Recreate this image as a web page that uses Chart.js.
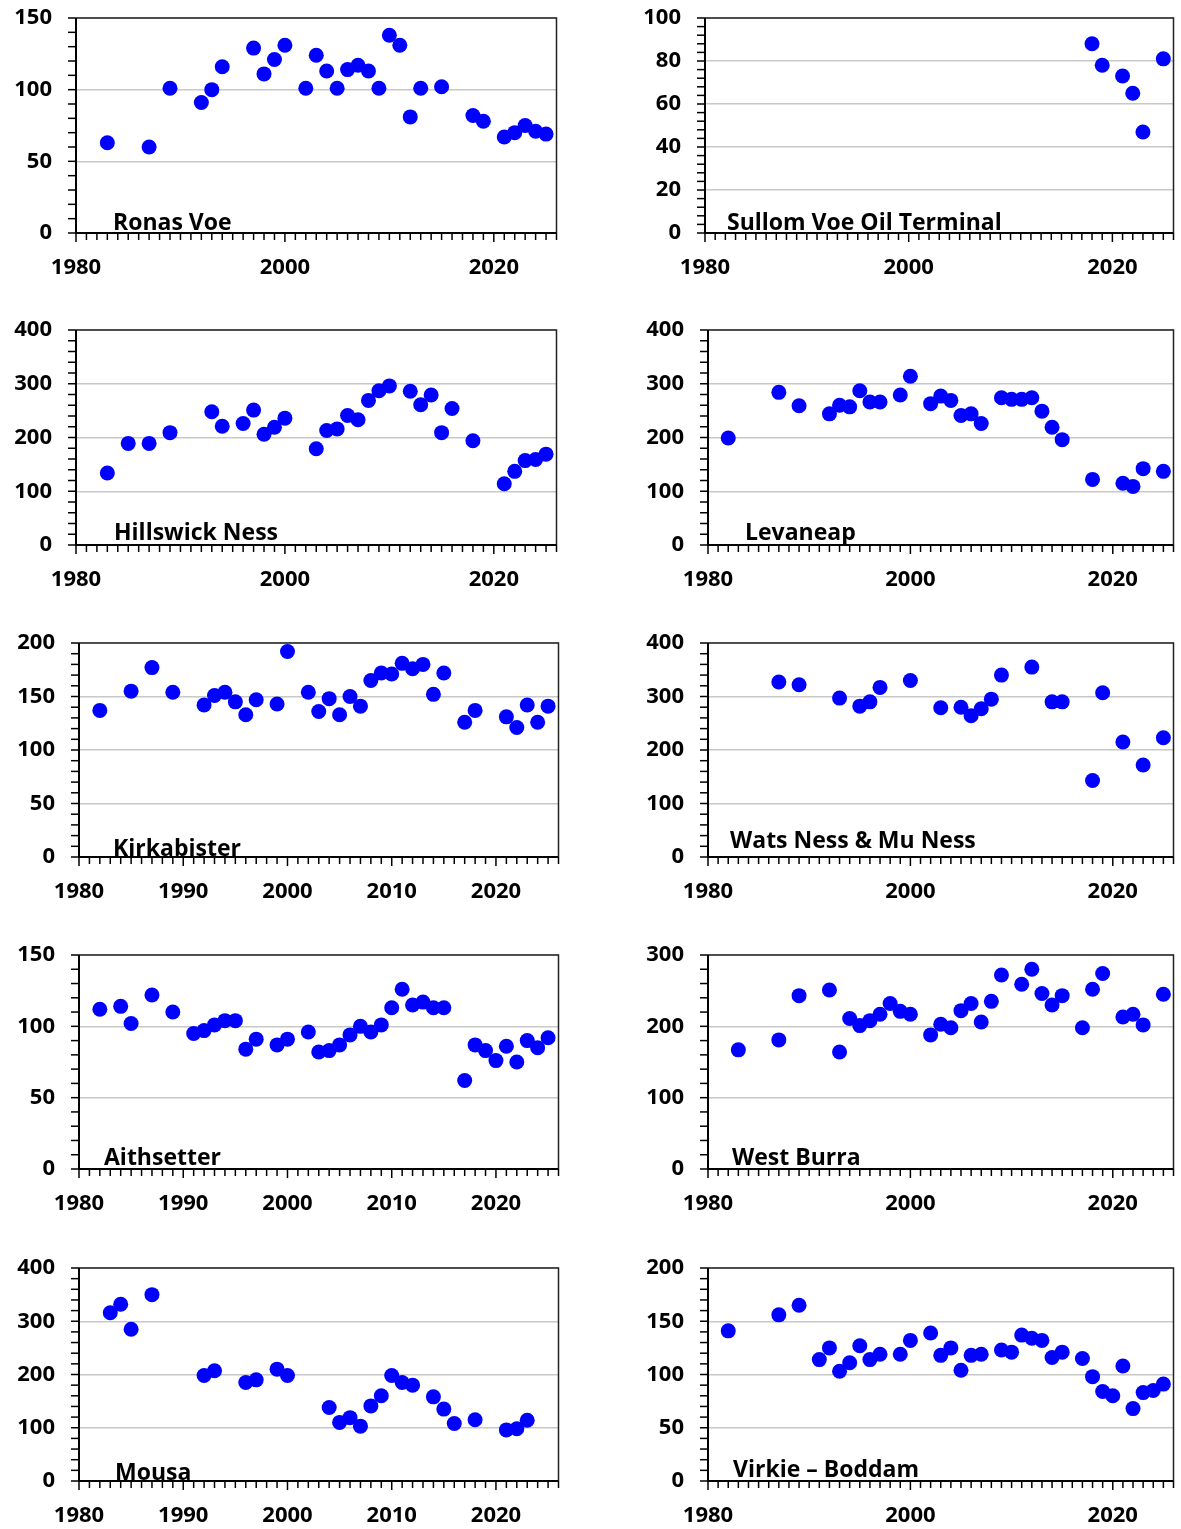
<!DOCTYPE html>
<html>
<head>
<meta charset="utf-8">
<script src="https://cdn.jsdelivr.net/npm/chart.js@4.4.1/dist/chart.umd.min.js"></script>
<style>
  body { margin: 0; background: #fff; width: 1181px; height: 1529px; position: relative; overflow: hidden; }
  canvas { position: absolute; }
</style>
</head>
<body>
<script>
// site names, one per panel
const sites = ['Ronas Voe', 'Sullom Voe Oil Terminal', 'Hillswick Ness', 'Levaneap', 'Kirkabister',
  'Wats Ness & Mu Ness', 'Aithsetter', 'West Burra', 'Mousa', 'Virkie – Boddam'];

const ronasYears = [1983, 1987, 1989, 1992, 1993, 1994, 1997, 1998, 1999, 2000, 2002, 2003, 2004, 2005, 2006, 2007, 2008, 2009, 2010, 2011, 2012, 2013, 2015, 2018, 2019, 2021, 2022, 2023, 2024, 2025];
const ronasCounts = [63, 60, 101, 91, 100, 116, 129, 111, 121, 131, 101, 124, 113, 101, 114, 117, 113, 101, 138, 131, 81, 101, 102, 82, 78, 67, 70, 75, 71, 69];

const sullomYears = [2018, 2019, 2021, 2022, 2023, 2025];
const sullomCounts = [88, 78, 73, 65, 47, 81];

const hillswickYears = [1983, 1985, 1987, 1989, 1993, 1994, 1996, 1997, 1998, 1999, 2000, 2003, 2004, 2005, 2006, 2007, 2008, 2009, 2010, 2012, 2013, 2014, 2015, 2016, 2018, 2021, 2022, 2023, 2024, 2025];
const hillswickCounts = [134, 189, 189, 209, 248, 221, 226, 251, 206, 219, 236, 179, 213, 216, 241, 233, 269, 287, 296, 286, 261, 279, 209, 254, 194, 114, 137, 157, 159, 169];

const levaneapYears = [1982, 1987, 1989, 1992, 1993, 1994, 1995, 1996, 1997, 1999, 2000, 2002, 2003, 2004, 2005, 2006, 2007, 2009, 2010, 2011, 2012, 2013, 2014, 2015, 2018, 2021, 2022, 2023, 2025];
const levaneapCounts = [199, 284, 259, 244, 260, 257, 287, 266, 266, 279, 314, 263, 277, 269, 241, 244, 226, 274, 271, 271, 274, 249, 219, 196, 122, 115, 109, 142, 137];

const kirkYears = [1982, 1985, 1987, 1989, 1992, 1993, 1994, 1995, 1996, 1997, 1999, 2000, 2002, 2003, 2004, 2005, 2006, 2007, 2008, 2009, 2010, 2011, 2012, 2013, 2014, 2015, 2017, 2018, 2021, 2022, 2023, 2024, 2025];
const kirkCounts = [137, 155, 177, 154, 142, 151, 154, 145, 133, 147, 143, 192, 154, 136, 148, 133, 150, 141, 165, 172, 171, 181, 176, 180, 152, 172, 126, 137, 131, 121, 142, 126, 141];

const watsYears = [1987, 1989, 1993, 1995, 1996, 1997, 2000, 2003, 2005, 2006, 2007, 2008, 2009, 2012, 2014, 2015, 2018, 2019, 2021, 2023, 2025];
const watsCounts = [327, 322, 297, 282, 290, 317, 330, 279, 280, 264, 277, 295, 340, 355, 290, 290, 143, 307, 215, 172, 223];

const aithYears = [1982, 1984, 1985, 1987, 1989, 1991, 1992, 1993, 1994, 1995, 1996, 1997, 1999, 2000, 2002, 2003, 2004, 2005, 2006, 2007, 2008, 2009, 2010, 2011, 2012, 2013, 2014, 2015, 2017, 2018, 2019, 2020, 2021, 2022, 2023, 2024, 2025];
const aithCounts = [112, 114, 102, 122, 110, 95, 97, 101, 104, 104, 84, 91, 87, 91, 96, 82, 83, 87, 94, 100, 96, 101, 113, 126, 115, 117, 113, 113, 62, 87, 83, 76, 86, 75, 90, 85, 92];

const burraYears = [1983, 1987, 1989, 1992, 1993, 1994, 1995, 1996, 1997, 1998, 1999, 2000, 2002, 2003, 2004, 2005, 2006, 2007, 2008, 2009, 2011, 2012, 2013, 2014, 2015, 2017, 2018, 2019, 2021, 2022, 2023, 2025];
const burraCounts = [167, 181, 243, 251, 164, 211, 201, 208, 217, 232, 221, 217, 188, 203, 198, 222, 232, 206, 235, 272, 259, 280, 246, 230, 243, 198, 252, 274, 213, 217, 202, 245];

const mousaYears = [1983, 1984, 1985, 1987, 1992, 1993, 1996, 1997, 1999, 2000, 2004, 2005, 2006, 2007, 2008, 2009, 2010, 2011, 2012, 2014, 2015, 2016, 2018, 2021, 2022, 2023];
const mousaCounts = [316, 332, 285, 350, 198, 207, 185, 190, 210, 198, 138, 110, 119, 103, 141, 160, 198, 185, 180, 158, 135, 108, 115, 96, 98, 114];

const virkieYears = [1982, 1987, 1989, 1991, 1992, 1993, 1994, 1995, 1996, 1997, 1999, 2000, 2002, 2003, 2004, 2005, 2006, 2007, 2009, 2010, 2011, 2012, 2013, 2014, 2015, 2017, 2018, 2019, 2020, 2021, 2022, 2023, 2024, 2025];
const virkieCounts = [141, 156, 165, 114, 125, 103, 111, 127, 114, 119, 119, 132, 139, 118, 125, 104, 118, 119, 123, 121, 137, 134, 132, 116, 121, 115, 98, 84, 80, 108, 68, 83, 85, 91];

const yearMin = 1980, yearMax = 2026;

// layout: plot rect [left, top, right, bottom], label offset [dx, dy]
const panels = [
  { name: sites[0], xs: ronasYears, ys: ronasCounts, yMax: 150, yStep: 50, xStep: 20, rect: [76, 18, 558, 233], lab: [37, 3] },
  { name: sites[1], xs: sullomYears, ys: sullomCounts, yMax: 100, yStep: 20, xStep: 20, rect: [705, 18, 1180, 233], lab: [22, 3] },
  { name: sites[2], xs: hillswickYears, ys: hillswickCounts, yMax: 400, yStep: 100, xStep: 20, rect: [76, 330, 558, 545], lab: [38, 5] },
  { name: sites[3], xs: levaneapYears, ys: levaneapCounts, yMax: 400, yStep: 100, xStep: 20, rect: [708, 330, 1180, 545], lab: [37, 5] },
  { name: sites[4], xs: kirkYears, ys: kirkCounts, yMax: 200, yStep: 50, xStep: 10, rect: [79, 643, 560, 857], lab: [34, 1] },
  { name: sites[5], xs: watsYears, ys: watsCounts, yMax: 400, yStep: 100, xStep: 20, rect: [708, 643, 1180, 857], lab: [22, 9] },
  { name: sites[6], xs: aithYears, ys: aithCounts, yMax: 150, yStep: 50, xStep: 10, rect: [79, 955, 560, 1169], lab: [25, 4] },
  { name: sites[7], xs: burraYears, ys: burraCounts, yMax: 300, yStep: 100, xStep: 20, rect: [708, 955, 1180, 1169], lab: [24, 4] },
  { name: sites[8], xs: mousaYears, ys: mousaCounts, yMax: 400, yStep: 100, xStep: 10, rect: [79, 1268, 560, 1481], lab: [36, 1] },
  { name: sites[9], xs: virkieYears, ys: virkieCounts, yMax: 200, yStep: 50, xStep: 20, rect: [708, 1268, 1180, 1481], lab: [25, 4] }
];

const FONT = '"Open Sans", Lato, sans-serif';
Chart.defaults.font.family = FONT;
Chart.defaults.font.size = 22;
Chart.defaults.font.weight = 'bold';
Chart.defaults.color = '#000';
Chart.defaults.animation = false;

const AXIS_W = 76, PAD_TOP = 16, AXIS_H = 55;

// plot frame, minor ticks and the site name, Excel style
const framePlugin = {
  id: 'frame',
  beforeDatasetsDraw(chart, args, opts) {
    const a = chart.chartArea, ctx = chart.ctx;
    const xs = chart.scales.x, ys = chart.scales.y;
    ctx.save();
    ctx.strokeStyle = '#222';
    ctx.lineWidth = 1.5;
    ctx.beginPath();
    ctx.moveTo(a.left, a.top);
    ctx.lineTo(a.right, a.top);
    ctx.lineTo(a.right, a.bottom);
    ctx.stroke();

    ctx.strokeStyle = '#000';
    ctx.lineWidth = 1.5;
    for (let yr = yearMin; yr <= yearMax; yr++) {
      const px = xs.getPixelForValue(yr);
      const len = yr % opts.xStep === 0 ? 9 : 7;
      ctx.beginPath();
      ctx.moveTo(px, a.bottom);
      ctx.lineTo(px, a.bottom + len);
      ctx.stroke();
    }
    const minor = opts.yStep / 5;
    for (let v = 0; v <= ys.max + 0.001; v += minor) {
      const py = ys.getPixelForValue(v);
      ctx.beginPath();
      ctx.moveTo(a.left - 8, py);
      ctx.lineTo(a.left, py);
      ctx.stroke();
    }

    ctx.lineWidth = 2;
    ctx.beginPath();
    ctx.moveTo(a.left, a.top);
    ctx.lineTo(a.left, a.bottom);
    ctx.lineTo(a.right, a.bottom);
    ctx.stroke();

    ctx.font = 'bold 23px ' + FONT;
    ctx.fillStyle = '#000';
    ctx.textBaseline = 'alphabetic';
    ctx.fillText(opts.text, a.left + opts.dx, a.bottom - opts.dy);
    ctx.restore();
  }
};

panels.forEach((p) => {
  const [x0, y0, x1, y1] = p.rect;
  const padRight = x1 > 600 ? 1 : 6;
  const cv = document.createElement('canvas');
  const w = (x1 - x0) + AXIS_W + padRight;
  const h = (y1 - y0) + PAD_TOP + AXIS_H;
  cv.width = w;
  cv.height = h;
  cv.style.left = (x0 - AXIS_W) + 'px';
  cv.style.top = (y0 - PAD_TOP) + 'px';
  cv.style.width = w + 'px';
  cv.style.height = h + 'px';
  document.body.appendChild(cv);

  const points = p.xs.map((yr, i) => ({ x: yr, y: p.ys[i] }));

  new Chart(cv, {
    type: 'scatter',
    data: {
      datasets: [{
        label: p.name,
        data: points,
        backgroundColor: '#0000ff',
        borderWidth: 0,
        pointRadius: 7.5,
        pointHoverRadius: 7.5
      }]
    },
    options: {
      responsive: false,
      devicePixelRatio: 1,
      layout: { padding: { top: PAD_TOP, right: padRight, left: 0, bottom: 0 } },
      plugins: {
        legend: { display: false },
        tooltip: { enabled: false },
        frame: { text: p.name, dx: p.lab[0], dy: p.lab[1], xStep: p.xStep, yStep: p.yStep }
      },
      scales: {
        x: {
          type: 'linear',
          min: yearMin,
          max: yearMax,
          grid: { display: false, drawTicks: false },
          border: { display: false },
          ticks: {
            stepSize: p.xStep,
            includeBounds: false,
            autoSkip: false,
            maxRotation: 0,
            padding: 22,
            callback: (v) => String(v)
          },
          afterFit: (s) => { s.height = AXIS_H; s.paddingLeft = 0; s.paddingRight = 0; }
        },
        y: {
          min: 0,
          max: p.yMax,
          grid: { color: '#c8c8c8', lineWidth: 1.5, drawTicks: false },
          border: { display: false },
          ticks: {
            stepSize: p.yStep,
            padding: 24,
            callback: (v) => String(v)
          },
          afterFit: (s) => { s.width = AXIS_W; s.paddingTop = 0; s.paddingBottom = 0; }
        }
      }
    },
    plugins: [framePlugin]
  });
});
</script>
</body>
</html>
